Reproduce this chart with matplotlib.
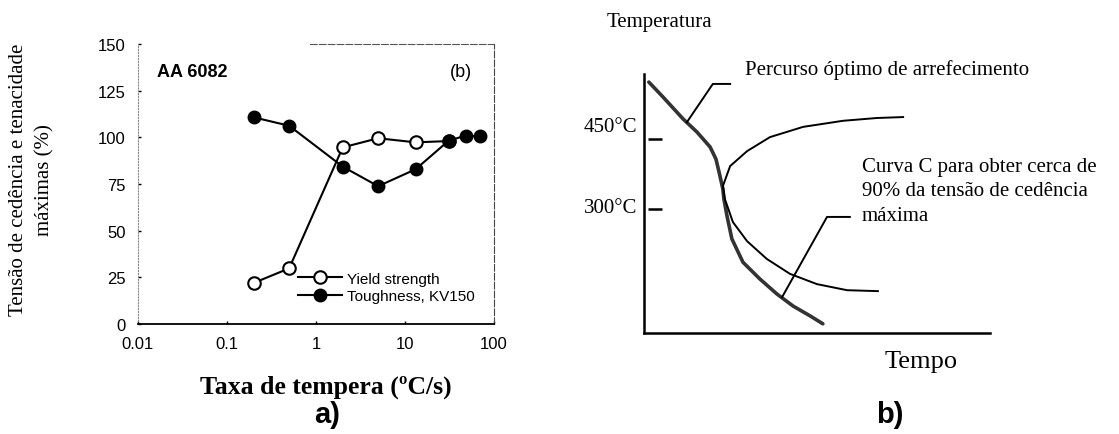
import matplotlib
matplotlib.use('Agg')
import matplotlib.pyplot as plt

# --- panel a) data ---
rate_yield = [0.2, 0.5, 2.0, 5.0, 13.2, 31.0]
yield_strength = [22.0, 29.8, 94.6, 99.5, 97.3, 98.0]
rate_tough = [0.2, 0.5, 2.0, 5.0, 13.2, 31.0, 48.0, 69.0]
toughness = [110.7, 106.2, 84.3, 73.8, 82.9, 98.2, 100.9, 100.5]
y_ticks = [0, 25, 50, 75, 100, 125, 150]
x_ticks = [0.01, 0.1, 1, 10, 100]
x_ticklabels = ['0.01', '0.1', '1', '10', '100']

# --- panel b) schematic data (time in arbitrary units, temperature in C) ---
cool_t = [1.4, 5.5, 11.3, 15.3, 19.1, 20.8, 21.7, 22.8, 23.1, 24.0, 25.4,
          28.6, 33.5, 38.4, 43.1, 48.0, 51.7]
cool_T = [572, 540, 493, 465, 433, 407, 379, 343, 321, 285, 236,
          186, 150, 118, 92, 71, 54]
ccurve_t = [74.9, 67.3, 57.5, 46.0, 36.4, 29.8, 24.9, 22.8, 23.4, 25.7,
            29.8, 35.5, 42.2, 50.0, 58.7, 67.6]
ccurve_T = [497, 495, 489, 476, 454, 424, 392, 349, 321, 272,
            231, 193, 161, 139, 126, 124]
lead1_t = [12.4, 19.9, 24.9]
lead1_T = [486, 568, 568]
lead2_t = [39.9, 52.9, 59.5]
lead2_T = [111, 283, 283]
temp_ticks = [450, 300]

serif = ['Liberation Serif', 'DejaVu Serif']
sans = ['Liberation Sans', 'DejaVu Sans']

fig = plt.figure(figsize=(11.19, 4.35), dpi=100)

# ================= panel a =================
ax = fig.add_axes([0.1233, 0.2529, 0.3181, 0.6437])
ax.plot(rate_yield, yield_strength, color='black', lw=1.5, marker='o',
        ms=9, mfc='white', mec='black', mew=1.5, label='Yield strength')
ax.plot(rate_tough, toughness, color='black', lw=1.5, marker='o',
        ms=9, mfc='black', mec='black', label='Toughness, KV150')
ax.set_xscale('log')
ax.set_xlim(0.01, 100)
ax.set_ylim(0, 150)
ax.set_xticks(x_ticks)
ax.set_xticklabels(x_ticklabels)
ax.minorticks_off()
ax.set_yticks(y_ticks)
ax.tick_params(axis='both', direction='in', length=2, width=1, labelsize=12, pad=9)
for lab in ax.get_xticklabels() + ax.get_yticklabels():
    lab.set_family(sans)

ax.spines['bottom'].set_linewidth(1.3)
ax.spines['left'].set_linestyle(':')
ax.spines['left'].set_color('#888888')
ax.spines['right'].set_linestyle((0, (6, 2)))
ax.spines['right'].set_color('#444444')
ax.spines['top'].set_linestyle((0, (6, 2)))
ax.spines['top'].set_color('#555555')
ax.spines['top'].set_bounds(0.85, 100)

ax.text(0.054, 0.9, 'AA 6082', transform=ax.transAxes, fontsize=13,
        fontweight='bold', family=sans, va='center', ha='left')
ax.text(0.907, 0.9, '(b)', transform=ax.transAxes, fontsize=13,
        family=sans, va='center', ha='center')

ax.legend(loc='center left', bbox_to_anchor=(0.449, 0.130), frameon=False,
          borderpad=0, borderaxespad=0, handlelength=2.9, handletextpad=0.33,
          labelspacing=0.24, numpoints=1, prop={'family': sans, 'size': 11})

fig.text(0.0285, 0.586, 'Tensão de cedência e tenacidade\nmáximas (%)',
         rotation=90, ha='center', va='center', fontsize=15, family=serif,
         linespacing=1.5, multialignment='center')
fig.text(0.291, 1 - 387 / 435, 'Taxa de tempera (ºC/s)', ha='center',
         va='center', fontsize=18.5, fontweight='bold', family=serif)
fig.text(0.292, 1 - 415 / 435, 'a)', ha='center', va='center',
         fontsize=21, fontweight='bold', family=sans)

# ================= panel b =================
bx = fig.add_axes([0.5755, 0.2322, 0.3092, 0.5954])
bx.set_xlim(0, 100)
bx.set_ylim(34.3, 589.3)
bx.plot(cool_t, cool_T, color='#333333', lw=2.6, solid_capstyle='round')
bx.plot(ccurve_t, ccurve_T, color='black', lw=1.4)
bx.plot(lead1_t, lead1_T, color='black', lw=1.4)
bx.plot(lead2_t, lead2_T, color='black', lw=1.4)
bx.hlines(temp_ticks, 1.2, 5.2, color='black', lw=1.8)
label_dy = [13, 2]
for v, dy in zip(temp_ticks, label_dy):
    bx.annotate(f'{v}°C', xy=(0, v), xytext=(-5, dy * 0.72),
                textcoords='offset points', ha='right', va='center',
                fontsize=15, family=serif, annotation_clip=False)
bx.set_xticks([])
bx.set_yticks([])
bx.spines['top'].set_visible(False)
bx.spines['right'].set_visible(False)
bx.spines['left'].set_linewidth(1.8)
bx.spines['bottom'].set_linewidth(1.8)
bx.patch.set_alpha(0)

fig.text(607 / 1119, 1 - 23 / 435, 'Temperatura', ha='left', va='center',
         fontsize=15, family=serif)
fig.text(745 / 1119, 1 - 70 / 435, 'Percurso óptimo de arrefecimento',
         ha='left', va='center', fontsize=15, family=serif)
fig.text(862 / 1119, 1 - 192 / 435,
         'Curva C para obter cerca de\n90% da tensão de cedência\nmáxima',
         ha='left', va='center', fontsize=15, family=serif, linespacing=1.4)
fig.text(885 / 1119, 1 - 362 / 435, 'Tempo', ha='left', va='center',
         fontsize=19, family=serif)
fig.text(890 / 1119, 1 - 415 / 435, 'b)', ha='center', va='center',
         fontsize=21, fontweight='bold', family=sans)

fig.savefig('out.png', dpi=100)
